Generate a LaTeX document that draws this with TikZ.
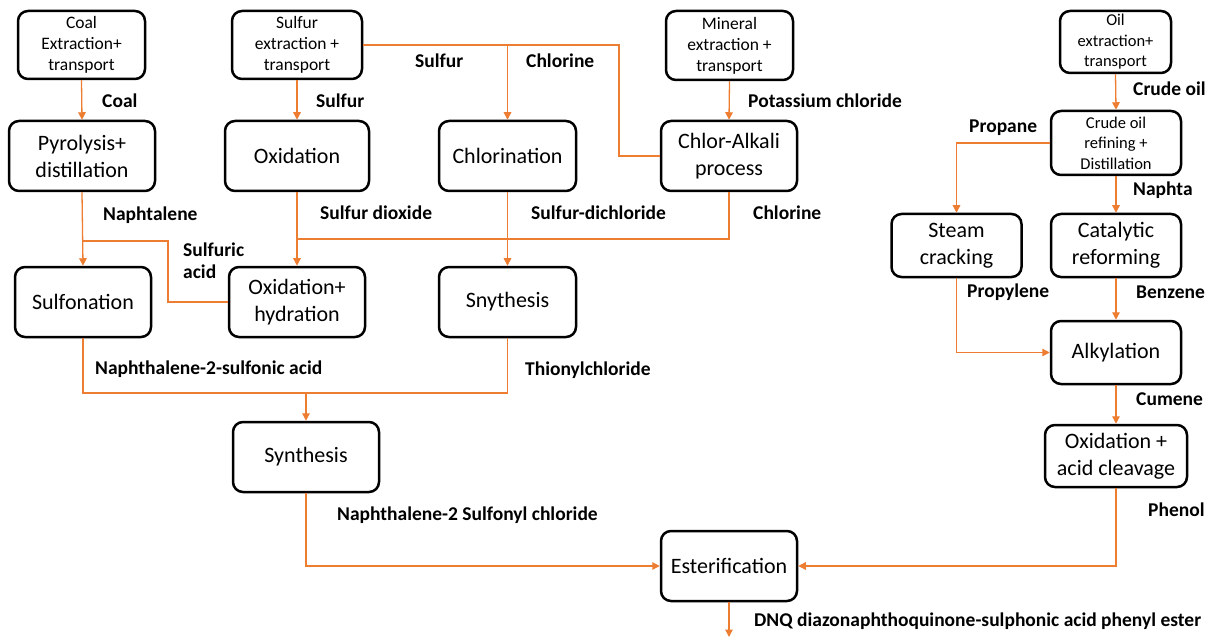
\documentclass[tikz,border=0pt]{standalone}
\usepackage{fontspec}
\setmainfont{Carlito}
\usetikzlibrary{arrows.meta}
\definecolor{flowc}{RGB}{237,125,49}
\begin{document}
\begin{tikzpicture}[x=1pt,y=-1pt,
  proc/.style={draw=black, line width=2.5pt, rounded corners=10pt, align=center, inner sep=0pt,
    font=\fontsize{22}{27}\selectfont},
  src/.style={proc, font=\fontsize{17.5}{21}\selectfont},
  lbl/.style={anchor=west, inner sep=0pt, align=left, font=\fontsize{19.5}{22}\selectfont\bfseries},
  wire/.style={draw=flowc, line width=1.3pt},
  flow/.style={wire, -{Triangle[width=7.5pt,length=7.5pt]}}]
\useasboundingbox (0,0) rectangle (1213,639);

% raw material sources
\node[src, minimum width=127pt, minimum height=68pt] (coal) at (81.5,45) {Coal\\Extraction+\\transport};
\node[src, minimum width=130pt, minimum height=68pt] (sulf) at (297,45) {Sulfur\\extraction +\\transport};
\node[src, minimum width=127pt, minimum height=69pt] (mineral) at (729.5,45.5) {Mineral\\extraction +\\transport};
\node[src, minimum width=111pt, minimum height=62pt, font=\fontsize{16.5}{20.5}\selectfont] (oil) at (1115.5,42) {Oil\\extraction+\\transport};

% process steps
\node[proc, minimum width=146pt, minimum height=70pt] (pyro) at (82,156) {Pyrolysis+\\distillation};
\node[proc, minimum width=144pt, minimum height=70pt] (oxi) at (297,156) {Oxidation};
\node[proc, minimum width=137pt, minimum height=70pt] (chlorin) at (507.5,156) {Chlorination};
\node[proc, minimum width=136pt, minimum height=70pt] (chlal) at (729,156) {Chlor-Alkali\\process};
\node[src, minimum width=130pt, minimum height=64pt, font=\fontsize{16.5}{20.5}\selectfont] (crude) at (1116,143) {Crude oil\\refining +\\Distillation};
\node[proc, minimum width=130pt, minimum height=63pt] (steam) at (956.5,245.5) {Steam\\cracking};
\node[proc, minimum width=130pt, minimum height=63pt] (cat) at (1116,245.5) {Catalytic\\reforming};
\node[proc, minimum width=136pt, minimum height=70pt] (sulfon) at (83,302) {Sulfonation};
\node[proc, minimum width=136pt, minimum height=70pt] (oxhyd) at (297,302) {Oxidation+\\hydration};
\node[proc, minimum width=137pt, minimum height=70pt] (snyth) at (507.5,302) {Snythesis};
\node[proc, minimum width=130pt, minimum height=63pt] (alk) at (1116,352.5) {Alkylation};
\node[proc, minimum width=142pt, minimum height=62pt] (oxcl) at (1116,456) {Oxidation +\\acid cleavage};
\node[proc, minimum width=146pt, minimum height=70pt] (synth) at (306,457) {Synthesis};
\node[proc, minimum width=136pt, minimum height=70pt] (ester) at (729,566) {Esterification};

% junction points
\coordinate (clturn) at (619,45);
\coordinate (sabend) at (168,241);
\coordinate (clbus) at (297,239);
\coordinate (nbus) at (306,393);
\coordinate (out) at (729,637);

% connectors
\draw[flow] (coal.south) -- (pyro.north);
\draw[flow] (sulf.south) -- (oxi.north);
\draw[flow] (sulf.east) -| (chlorin.north);
\draw[wire] (chlal.west) -| (clturn) -- (chlorin.north |- clturn);
\draw[flow] (mineral.south) -- (chlal.north);
\draw[flow] (pyro.south) -- (sulfon.north);
\draw[wire] (oxhyd.west) -| (sabend) -- (pyro.south |- sabend);
\draw[flow] (oxi.south) -- (oxhyd.north);
\draw[wire] (chlal.south) |- (clbus);
\draw[flow] (chlorin.south) -- (snyth.north);
\draw[flow] (sulfon.south) |- (nbus) -- (synth.north);
\draw[wire] (snyth.south) |- (nbus);
\draw[flow] (synth.south) |- (ester.west);
\draw[flow] (oil.south) -- (crude.north);
\draw[flow] (crude.west) -| (steam.north);
\draw[flow] (crude.south) -- (cat.north);
\draw[flow] (steam.south) |- (alk.west);
\draw[flow] (cat.south) -- (alk.north);
\draw[flow] (alk.south) -- (oxcl.north);
\draw[flow] (oxcl.south) |- (ester.east);
\draw[flow] (ester.south) -- (out);

% stream labels
\node[lbl] (lcoal) at (102,101) {Coal};
\node[lbl] (lsulf1) at (316,101) {Sulfur};
\node[lbl] (lsulf2) at (415,61) {Sulfur};
\node[lbl] (lcl1) at (526,61) {Chlorine};
\node[lbl] (lkcl) at (748,101) {Potassium chloride};
\node[lbl] (lnaph) at (103,215) {Naphtalene};
\node[lbl] (lso2) at (320,213) {Sulfur dioxide};
\node[lbl] (lscl) at (531,213) {Sulfur-dichloride};
\node[lbl] (lcl2) at (753,213) {Chlorine};
\node[lbl] (lh2so4) at (183,261) {Sulfuric\\acid};
\node[lbl] (lnsa) at (95,369) {Naphthalene-2-sulfonic acid};
\node[lbl] (lsocl) at (525,370) {Thionylchloride};
\node[lbl] (lnscl) at (337,515) {Naphthalene-2 Sulfonyl chloride};
\node[lbl] (ldnq) at (754,621) {DNQ diazonaphthoquinone-sulphonic acid phenyl ester};
\node[lbl] (lcrude) at (1133,89) {Crude oil};
\node[lbl] (lprop) at (969,128) {Propane};
\node[lbl] (lnapht) at (1133,190) {Naphta};
\node[lbl] (lpropy) at (967,292) {Propylene};
\node[lbl] (lbenz) at (1136,292) {Benzene};
\node[lbl] (lcum) at (1136,399) {Cumene};
\node[lbl] (lphen) at (1148,510) {Phenol};
\end{tikzpicture}
\end{document}
